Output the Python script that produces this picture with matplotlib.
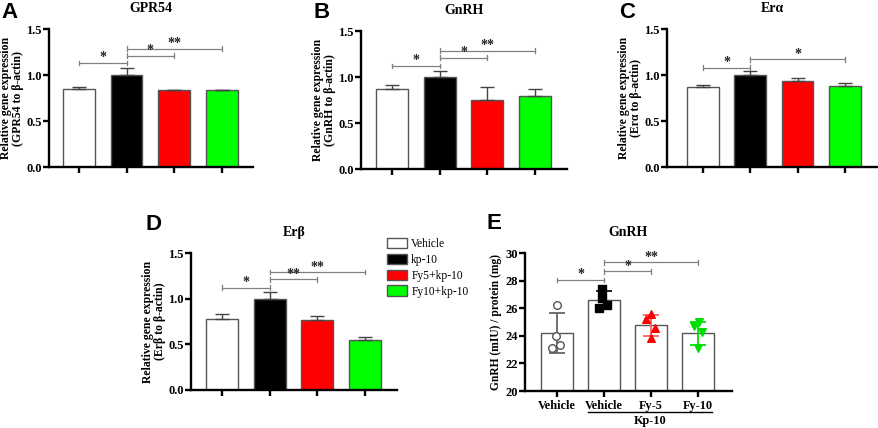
import matplotlib
matplotlib.use("Agg")
import matplotlib.pyplot as plt
from matplotlib.patches import Patch

plt.rcParams['font.family'] = ['Liberation Serif', 'DejaVu Serif']

# ---------------- data ----------------
groups = ["Vehicle", "kp-10", "Fy5+kp-10", "Fy10+kp-10"]
bar_colors = ["#ffffff", "#000000", "#ff0000", "#00ff00"]

gpr54_mean = [0.85, 1.00, 0.835, 0.835]
gpr54_err = [0.015, 0.08, 0.005, 0.005]
gpr54_sig = [(0, 1, 1.13, "*"), (1, 2, 1.21, "*"), (1, 3, 1.285, "**")]

gnrh_mean = [0.872, 1.00, 0.755, 0.79]
gnrh_err = [0.036, 0.068, 0.135, 0.082]
gnrh_sig = [(0, 1, 1.12, "*"), (1, 2, 1.21, "*"), (1, 3, 1.285, "**")]

era_mean = [0.874, 0.998, 0.94, 0.881]
era_err = [0.021, 0.042, 0.032, 0.036]
era_sig = [(0, 1, 1.08, "*"), (1, 3, 1.17, "*")]

erb_mean = [0.779, 1.00, 0.768, 0.542]
erb_err = [0.058, 0.074, 0.044, 0.033]
erb_sig = [(0, 1, 1.12, "*"), (1, 2, 1.21, "**"), (1, 3, 1.29, "**")]

e_labels = ["Vehicle", "Vehicle", "Fy-5", "Fy-10"]
e_mean = [24.17, 26.59, 24.75, 24.17]
e_sd = [1.45, 0.63, 0.74, 0.82]
e_points = [
    [26.26, 23.96, 23.12, 23.36],
    [27.37, 26.76, 26.01, 26.23],
    [25.60, 25.19, 24.54, 23.86],
    [25.02, 24.69, 24.25, 23.12],
]
e_sig = [(0, 1, 28.04, "*"), (1, 2, 28.67, "*"), (1, 3, 29.32, "**")]

# ---------------- layout ----------------
W, H = 879, 428
fig = plt.figure(figsize=(W / 100, H / 100), dpi=100)


def add_ax(l, r, t, b):
    return fig.add_axes([l / W, 1 - b / H, (r - l) / W, (b - t) / H])


def style_ax(ax, xl, xr):
    for s in ("top", "right"):
        ax.spines[s].set_visible(False)
    for s in ("left", "bottom"):
        ax.spines[s].set_linewidth(1.7)
    ax.tick_params(axis="both", width=1.7, length=4.5, labelsize=9, pad=0.8)
    ax.set_xlim(xl, xr)
    for lab in ax.get_yticklabels():
        lab.set_fontweight("bold")


def brackets(ax, sigs, d):
    for i, j, h, s in sigs:
        ax.plot([i, j], [h, h], color="#808080", lw=0.9, clip_on=False)
        for x in (i, j):
            ax.plot([x, x], [h - d, h + d], color="#808080", lw=0.9, clip_on=False)
        ax.text((i + j) / 2, h - d * 0.6, s, ha="center", va="bottom",
                fontsize=10, fontweight="bold", color="#222222")


def bar_panel(box, xlim, title, ylabel, mean, err, sig):
    ax = add_ax(*box)
    x = list(range(len(mean)))
    ax.bar(x, mean, width=0.67, color=bar_colors, edgecolor="#555555", linewidth=1.0, zorder=2)
    ax.errorbar(x, mean, yerr=[[0] * len(err), err], fmt="none", ecolor="#444444",
                elinewidth=1.0, capsize=5, capthick=1.0, zorder=3)
    ax.set_ylim(0, 1.5)
    ax.set_yticks([0.0, 0.5, 1.0, 1.5])
    ax.set_yticklabels(["0.0", "0.5", "1.0", "1.5"])
    ax.set_xticks(x)
    ax.set_xticklabels([])
    style_ax(ax, *xlim)
    ax.set_title(title, fontsize=10, fontweight="bold", pad=12)
    ax.set_ylabel(ylabel, fontsize=8.5, fontweight="bold", linespacing=1.0, labelpad=1.5)
    brackets(ax, sig, 0.025)
    return ax


axA = bar_panel((49, 253, 29, 167), (-0.63, 3.66), "GPR54",
                "Relative gene expression\n(GPR54 to β-actin)", gpr54_mean, gpr54_err, gpr54_sig)
axB = bar_panel((361, 567, 31, 169), (-0.65, 3.67), "GnRH",
                "Relative gene expression\n(GnRH to β-actin)", gnrh_mean, gnrh_err, gnrh_sig)
axC = bar_panel((667, 877, 29, 167), (-0.76, 3.68), "Erα",
                "Relative gene expression\n(Erα to β-actin)", era_mean, era_err, era_sig)
axD = bar_panel((191, 397, 253, 390), (-0.65, 3.67), "Erβ",
                "Relative gene expression\n(Erβ to β-actin)", erb_mean, erb_err, erb_sig)

# ---------------- panel E ----------------
boxE = (525, 732, 253, 391)
axE = add_ax(*boxE)
xe = list(range(len(e_mean)))
axE.bar(xe, e_mean, width=0.68, color="white", edgecolor="#555555", linewidth=1.0, zorder=2)
e_ecol = ["#666666", "#111111", "#ff6060", "#00e000"]
e_mcol = ["#555555", "#000000", "#ff0000", "#00dd00"]
e_mark = ["o", "s", "^", "v"]
e_face = ["white", "#000000", "#ff0000", "#00dd00"]
jitter = [[0.0, -0.03, -0.1, 0.07], [-0.04, -0.04, -0.11, 0.06],
          [-0.01, -0.1, 0.08, -0.01], [0.01, -0.09, 0.085, 0.0]]
for k in xe:
    axE.errorbar([k], [e_mean[k]], yerr=[[e_sd[k]], [e_sd[k]]], fmt="none", ecolor=e_ecol[k],
                 elinewidth=1.3, capsize=6, capthick=1.3, zorder=3)
    axE.scatter([k + j for j in jitter[k]], e_points[k], marker=e_mark[k], s=30,
                facecolor=e_face[k], edgecolor=e_mcol[k], linewidth=1.0, zorder=4)
axE.set_ylim(20, 30)
axE.set_yticks([20, 22, 24, 26, 28, 30])
axE.set_xticks(xe)
axE.set_xticklabels(e_labels, fontweight="bold")
style_ax(axE, -0.68, 3.72)
axE.tick_params(axis="x", labelsize=8.8, pad=2)
axE.set_title("GnRH", fontsize=10, fontweight="bold", pad=12)
axE.set_ylabel("GnRH (mIU) / protein (mg)", fontsize=8.3, fontweight="bold", labelpad=2)
brackets(axE, e_sig, 0.17)
axE.plot([0.66, 3.3], [-0.155, -0.155], color="black", lw=1.0,
         transform=axE.get_xaxis_transform(), clip_on=False)
axE.text(1.98, -0.175, "Kp-10", transform=axE.get_xaxis_transform(), ha="center", va="top",
         fontsize=8.8, fontweight="bold")

# ---------------- legend ----------------
handles = [Patch(facecolor=c, edgecolor="#555555", linewidth=1.0) for c in bar_colors]
fig.legend(handles, groups, loc="upper left", bbox_to_anchor=(379 / W, 1 - 230 / H),
           frameon=False, fontsize=8.3, handlelength=1.7, handleheight=1.0,
           labelspacing=0.32, handletextpad=0.4, borderpad=0.2)

# ---------------- panel letters ----------------
letters = [("A", 1, 2), ("B", 314, 2), ("C", 619, 2), ("D", 146, 214), ("E", 487, 213)]
for s, px, py in letters:
    fig.text(px / W, 1 - py / H, s, fontsize=16, fontweight="bold",
             family="Liberation Sans", ha="left", va="top")

fig.savefig("out.png", dpi=100)
